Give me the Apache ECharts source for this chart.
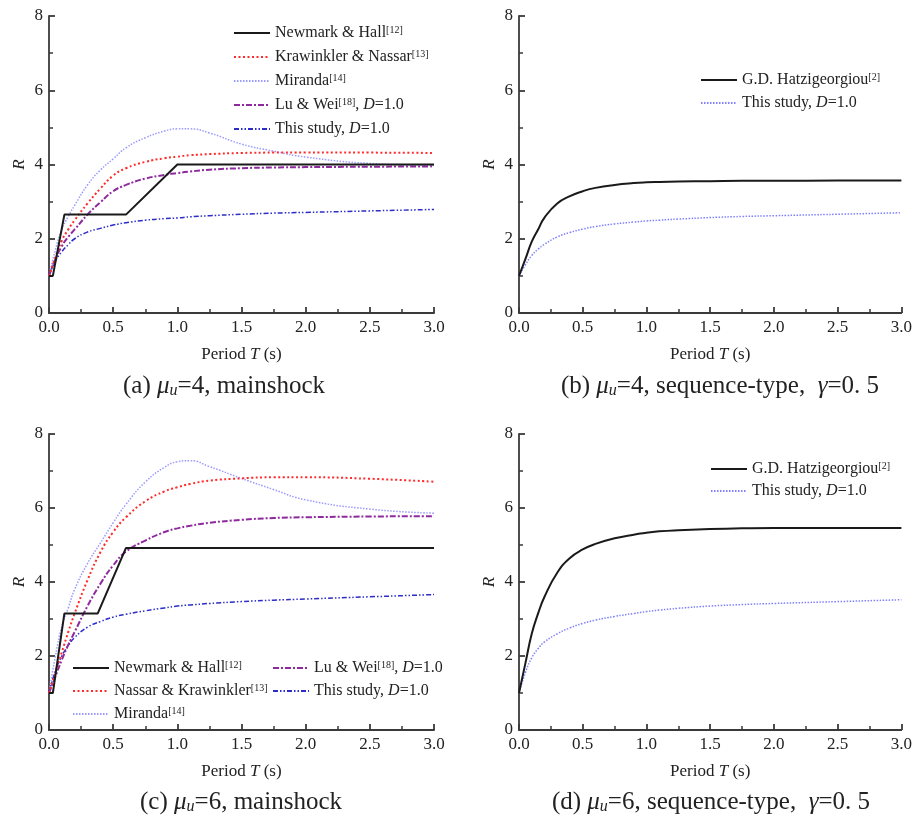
<!DOCTYPE html>
<html>
<head>
<meta charset="utf-8">
<script src="https://cdn.jsdelivr.net/npm/echarts@6/dist/echarts.min.js"></script>
<style>
  html, body { margin: 0; padding: 0; background: #fff; }
  #chart { width: 915px; height: 823px; }
</style>
</head>
<body>
<div id="chart"></div>
<script>
// Period grid (s) shared by the smooth curves
const periods = [0, 0.05, 0.1, 0.15, 0.2, 0.3, 0.4, 0.5, 0.6, 0.75, 0.9, 1.0, 1.1, 1.25, 1.5, 1.75, 2.0, 2.5, 3.0];

// (a) mu_u = 4, mainshock
const nhPeriodA = [0, 0.03, 0.12, 0.6, 1.0, 3.0];
const nhValA    = [1, 1, 2.65, 2.65, 4.0, 4.0];
const knA  = [1, 1.5, 1.95, 2.25, 2.5, 2.95, 3.35, 3.7, 3.9, 4.07, 4.17, 4.21, 4.25, 4.28, 4.31, 4.32, 4.32, 4.32, 4.31];
const mirA = [1, 1.7, 2.25, 2.6, 2.9, 3.45, 3.85, 4.15, 4.45, 4.72, 4.9, 4.96, 4.96, 4.85, 4.55, 4.36, 4.2, 4.03, 3.98];
const lwA  = [1, 1.45, 1.8, 2.05, 2.25, 2.65, 2.98, 3.28, 3.45, 3.62, 3.72, 3.77, 3.81, 3.86, 3.9, 3.92, 3.93, 3.94, 3.95];
const tsA  = [1, 1.4, 1.65, 1.84, 2.0, 2.18, 2.28, 2.37, 2.43, 2.5, 2.54, 2.56, 2.59, 2.62, 2.66, 2.69, 2.71, 2.75, 2.79];

// (b) mu_u = 4, sequence-type, gamma = 0.5
const hzB = [1, 1.45, 1.92, 2.25, 2.57, 2.95, 3.15, 3.28, 3.37, 3.45, 3.5, 3.52, 3.53, 3.54, 3.55, 3.56, 3.56, 3.57, 3.57];
const tsB = [1, 1.3, 1.55, 1.72, 1.85, 2.05, 2.17, 2.26, 2.33, 2.4, 2.45, 2.48, 2.5, 2.53, 2.57, 2.6, 2.62, 2.66, 2.7];

// (c) mu_u = 6, mainshock
const nhPeriodC = [0, 0.03, 0.12, 0.38, 0.6, 3.0];
const nhValC    = [1, 1, 3.15, 3.15, 4.92, 4.92];
const nkC  = [1, 1.55, 2.1, 2.65, 3.15, 4.05, 4.8, 5.35, 5.75, 6.18, 6.45, 6.56, 6.65, 6.74, 6.8, 6.83, 6.83, 6.79, 6.71];
const mirC = [1, 2.0, 2.8, 3.3, 3.8, 4.5, 5.05, 5.6, 6.1, 6.7, 7.1, 7.25, 7.28, 7.12, 6.8, 6.5, 6.22, 5.97, 5.86];
const lwC  = [1, 1.45, 1.9, 2.3, 2.65, 3.35, 3.95, 4.45, 4.82, 5.12, 5.35, 5.45, 5.52, 5.6, 5.68, 5.73, 5.75, 5.77, 5.78];
const tsC  = [1, 1.6, 2.0, 2.28, 2.5, 2.78, 2.93, 3.05, 3.13, 3.22, 3.3, 3.35, 3.38, 3.42, 3.47, 3.51, 3.54, 3.6, 3.66];

// (d) mu_u = 6, sequence-type, gamma = 0.5
const hzD = [1, 1.8, 2.6, 3.15, 3.6, 4.25, 4.65, 4.88, 5.03, 5.18, 5.28, 5.33, 5.37, 5.4, 5.43, 5.45, 5.46, 5.46, 5.46];
const tsD = [1, 1.55, 1.95, 2.2, 2.38, 2.6, 2.76, 2.88, 2.97, 3.07, 3.15, 3.2, 3.24, 3.29, 3.35, 3.39, 3.42, 3.47, 3.52];

// Axis ticks
const xTicks = { min: 0, max: 3, interval: 0.5 };
const yTicks = { min: 0, max: 8, interval: 2 };

const SERIF = '"Liberation Serif", "Times New Roman", serif';

function pairs(xs, ys) { return xs.map((x, i) => [x, ys[i]]); }

// Legend rich labels keyed by series name
const legendText = {
  'nhA': '{t|Newmark & Hall}{s|[12]}',
  'knA': '{t|Krawinkler & Nassar}{s|[13]}',
  'mirA': '{t|Miranda}{s|[14]}',
  'lwA': '{t|Lu & Wei}{s|[18]}{t|, }{i|D}{t|=1.0}',
  'tsA': '{t|This study, }{i|D}{t|=1.0}',
  'hzB': '{t|G.D. Hatzigeorgiou}{s|[2]}',
  'tsB': '{t|This study, }{i|D}{t|=1.0}',
  'nhC': '{t|Newmark & Hall}{s|[12]}',
  'nkC': '{t|Nassar & Krawinkler}{s|[13]}',
  'mirC': '{t|Miranda}{s|[14]}',
  'lwC': '{t|Lu & Wei}{s|[18]}{t|, }{i|D}{t|=1.0}',
  'tsC': '{t|This study, }{i|D}{t|=1.0}',
  'hzD': '{t|G.D. Hatzigeorgiou}{s|[2]}',
  'tsD': '{t|This study, }{i|D}{t|=1.0}'
};

const legendRich = {
  t: { fontFamily: SERIF, fontSize: 16, color: '#222' },
  i: { fontFamily: SERIF, fontSize: 16, color: '#222', fontStyle: 'italic' },
  s: { fontFamily: SERIF, fontSize: 10, color: '#222', verticalAlign: 'top' }
};

function makeLegend(names, left, top, gap) {
  return {
    data: names, left: left, top: top, orient: 'vertical', padding: 0,
    itemWidth: 36, itemHeight: 14, itemGap: gap, selectedMode: false,
    itemStyle: { opacity: 0 },
    formatter: n => legendText[n],
    textStyle: { fontFamily: SERIF, fontSize: 16, color: '#222', rich: legendRich }
  };
}

// Line styles
const styles = {
  nh:  { color: '#1a1a1a', width: 2, type: 'solid' },
  kn:  { color: '#ff2a2a', width: 2, type: [2, 2.5] },
  mir: { color: '#9a9aff', width: 1.5, type: [1.5, 1.5] },
  lw:  { color: '#8e2a9e', width: 2, type: [6, 2, 2, 2] },
  ts:  { color: '#2c2cc8', width: 1.5, type: [5, 2, 1.5, 2, 1.5, 2] },
  hz:  { color: '#1a1a1a', width: 2, type: 'solid' },
  tsSeq: { color: '#8080ff', width: 1.5, type: [1.5, 1.5] }
};

function line(name, idx, data, st, smooth) {
  return {
    name: name, type: 'line', xAxisIndex: idx, yAxisIndex: idx,
    data: data, showSymbol: false, symbol: 'none',
    smooth: smooth ? 0.5 : false,
    lineStyle: st, itemStyle: { color: st.color }, animation: false
  };
}

const grids = [
  { left: 49, top: 16, width: 385, height: 297 },
  { left: 519, top: 16, width: 385, height: 297 },
  { left: 49, top: 434, width: 385, height: 296 },
  { left: 519, top: 434, width: 385, height: 296 }
];

const axisLineStyle = { color: '#3a3a3a', width: 1.8 };

const xAxes = grids.map((g, i) => ({
  type: 'value', gridIndex: i, min: xTicks.min, max: xTicks.max, interval: xTicks.interval,
  axisLine: { show: true, onZero: false, lineStyle: axisLineStyle },
  axisTick: { show: true, inside: true, length: 6, lineStyle: axisLineStyle },
  minorTick: { show: true, splitNumber: 2, length: 4, lineStyle: { color: '#3a3a3a', width: 1.5 } },
  splitLine: { show: false },
  axisLabel: { fontFamily: SERIF, fontSize: 17, color: '#222', margin: 6, formatter: v => v.toFixed(1) },
  name: 'Period {i|T} (s)', nameLocation: 'middle', nameGap: 33,
  nameTextStyle: {
    fontFamily: SERIF, fontSize: 17, color: '#222',
    rich: { i: { fontFamily: SERIF, fontSize: 17, color: '#222', fontStyle: 'italic' } }
  }
}));

const yAxes = grids.map((g, i) => ({
  type: 'value', gridIndex: i, min: yTicks.min, max: yTicks.max, interval: yTicks.interval,
  axisLine: { show: true, onZero: false, lineStyle: axisLineStyle },
  axisTick: { show: true, inside: true, length: 6, lineStyle: axisLineStyle },
  minorTick: { show: true, splitNumber: 2, length: 4, lineStyle: { color: '#3a3a3a', width: 1.5 } },
  splitLine: { show: false },
  axisLabel: { fontFamily: SERIF, fontSize: 17, color: '#222', margin: 6 },
  name: 'R', nameLocation: 'middle', nameGap: 21, nameRotate: 90,
  nameTextStyle: { fontFamily: SERIF, fontSize: 17, color: '#222', fontStyle: 'italic' }
}));

const capRich = {
  n: { fontFamily: SERIF, fontSize: 25, color: '#222' },
  g: { fontFamily: SERIF, fontSize: 25, color: '#222', fontStyle: 'italic' },
  u: { fontFamily: SERIF, fontSize: 16, color: '#222', fontStyle: 'italic', verticalAlign: 'bottom', padding: [10, 0, 0, 0] }
};
function caption(text, cx, top) {
  return {
    text: text, left: cx, top: top, textAlign: 'center', padding: 0,
    textStyle: { fontFamily: SERIF, fontSize: 25, fontWeight: 'normal', color: '#222', rich: capRich }
  };
}

const option = {
  backgroundColor: '#fff',
  animation: false,
  title: [
    caption('{n|(a) }{g|μ}{u|u}{n|=4, mainshock}', 224, 373),
    caption('{n|(b) }{g|μ}{u|u}{n|=4, sequence-type,  }{g|γ}{n|=0. 5}', 720, 373),
    caption('{n|(c) }{g|μ}{u|u}{n|=6, mainshock}', 241, 789),
    caption('{n|(d) }{g|μ}{u|u}{n|=6, sequence-type,  }{g|γ}{n|=0. 5}', 711, 789)
  ],
  grid: grids,
  xAxis: xAxes,
  yAxis: yAxes,
  legend: [
    makeLegend(['nhA', 'knA', 'mirA', 'lwA', 'tsA'], 233, 25, 8),
    makeLegend(['hzB', 'tsB'], 700, 72, 7),
    makeLegend(['nhC', 'nkC', 'mirC'], 72, 660, 7),
    makeLegend(['lwC', 'tsC'], 272, 660, 7),
    makeLegend(['hzD', 'tsD'], 710, 461, 6)
  ],
  series: [
    line('mirA', 0, pairs(periods, mirA), styles.mir, true),
    line('tsA', 0, pairs(periods, tsA), styles.ts, true),
    line('lwA', 0, pairs(periods, lwA), styles.lw, true),
    line('knA', 0, pairs(periods, knA), styles.kn, true),
    line('nhA', 0, pairs(nhPeriodA, nhValA), styles.nh, false),

    line('tsB', 1, pairs(periods, tsB), styles.tsSeq, true),
    line('hzB', 1, pairs(periods, hzB), styles.hz, true),

    line('mirC', 2, pairs(periods, mirC), styles.mir, true),
    line('tsC', 2, pairs(periods, tsC), styles.ts, true),
    line('lwC', 2, pairs(periods, lwC), styles.lw, true),
    line('nkC', 2, pairs(periods, nkC), styles.kn, true),
    line('nhC', 2, pairs(nhPeriodC, nhValC), styles.nh, false),

    line('tsD', 3, pairs(periods, tsD), styles.tsSeq, true),
    line('hzD', 3, pairs(periods, hzD), styles.hz, true)
  ]
};

const chart = echarts.init(document.getElementById('chart'), null, { renderer: 'canvas' });
chart.setOption(option);
</script>
</body>
</html>
